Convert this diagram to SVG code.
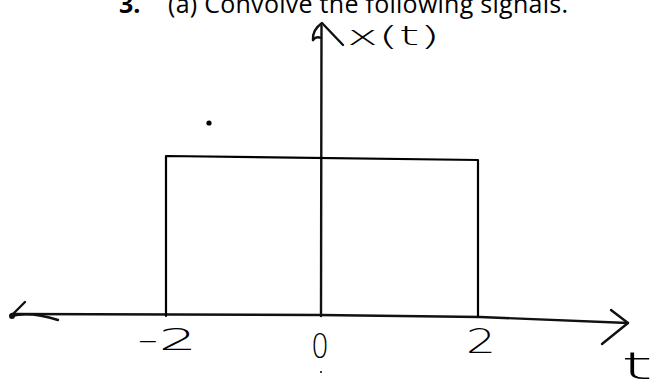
<svg xmlns="http://www.w3.org/2000/svg" width="654" height="381" viewBox="0 0 654 381">
<style>
.ln{fill:none;stroke:#000;stroke-width:2.2;stroke-linecap:round;stroke-linejoin:round}
.ax{fill:none;stroke:#111;stroke-width:2.4;stroke-linecap:round;stroke-linejoin:round}
.hw{font-family:"DejaVu Sans","Liberation Sans",sans-serif;font-weight:200;fill:#000}
.tt{font-family:"Open Sans","Liberation Sans",sans-serif;fill:#000}
</style>
<rect width="654" height="381" fill="#fff"/>
<g id="title">
<text x="119" y="13" class="tt" font-size="25" font-weight="bold">3.</text>
<text x="168" y="13" class="tt" font-size="25" textLength="400" lengthAdjust="spacing">(a) Convolve the following signals.</text>
</g>
<g id="axes">
<path class="ax" d="M321 316 L321.5 26"/>
<path class="ax" d="M313 40 Q312 30 322 23 L343 45"/>
<path class="ax" d="M313 40 Q316 36 321 38"/>
<path class="ax" d="M12 314 L320 315 L480 317 L628 323"/>
<path class="ax" d="M25 302 L11 316 M11 316 Q30 311 58 320"/>
<circle cx="12" cy="316" r="3" fill="#111"/>
<path class="ax" d="M611 310 L628 323 L602 344"/>
</g>
<g id="pulse">
<path class="ln" d="M166 316 L166 156 L478 160 L478 317"/>
</g>
<g id="labels">
<text x="347" y="45" class="hw" font-size="27" textLength="93" lengthAdjust="spacingAndGlyphs">x(t)</text>
<text x="137" y="350" class="hw" font-size="30" textLength="60" lengthAdjust="spacingAndGlyphs">-2</text>
<text x="311" y="358" class="hw" font-size="33" font-weight="normal" textLength="18" lengthAdjust="spacingAndGlyphs">0</text>
<text x="466" y="353" class="hw" font-size="34" textLength="30" lengthAdjust="spacingAndGlyphs">2</text>
<text x="621" y="379" class="hw" font-size="38" textLength="32" lengthAdjust="spacingAndGlyphs">t</text>
<circle cx="209" cy="123" r="2.6" fill="#000"/>
<circle cx="321" cy="372" r="1" fill="#000"/>
</g>
</svg>
